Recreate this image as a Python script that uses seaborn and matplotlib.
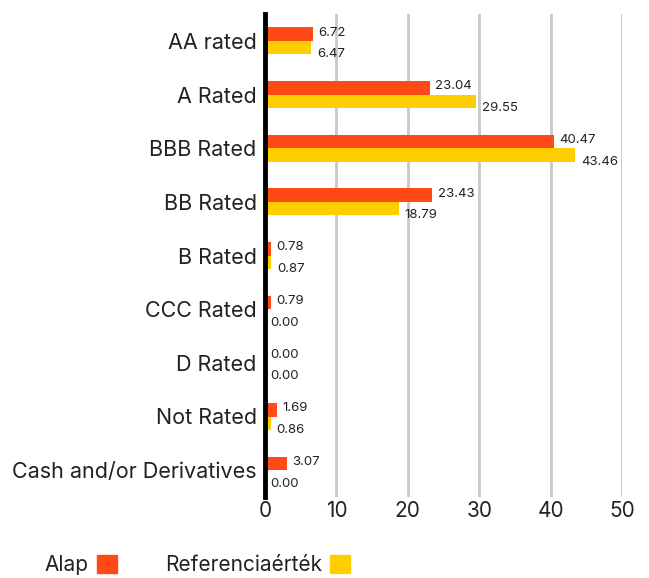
import matplotlib
matplotlib.use("Agg")
import matplotlib.pyplot as plt
import seaborn as sns
import pandas as pd
from matplotlib.patches import Patch

categories = ["AA rated", "A Rated", "BBB Rated", "BB Rated", "B Rated",
              "CCC Rated", "D Rated", "Not Rated", "Cash and/or Derivatives"]
alap = [6.72, 23.04, 40.47, 23.43, 0.78, 0.79, 0.00, 1.69, 3.07]
referencia = [6.47, 29.55, 43.46, 18.79, 0.87, 0.00, 0.00, 0.86, 0.00]
series_names = ["Alap", "Referenciaérték"]
colors = ["#FF4A17", "#FFCE00"]
xticks = [0, 10, 20, 30, 40, 50]

df = pd.DataFrame({
    "cat": categories * 2,
    "val": alap + referencia,
    "series": [series_names[0]] * len(categories) + [series_names[1]] * len(categories),
})

sns.set_style("white")
plt.rcParams["font.family"] = ["Inter", "DejaVu Sans"]

fig = plt.figure(figsize=(6.49, 5.78), dpi=100)
ax = fig.add_axes([265 / 649, 1 - 497 / 578, 357 / 649, 483 / 578])

sns.barplot(data=df, y="cat", x="val", hue="series", orient="h",
            palette=colors, width=0.5, ax=ax, legend=False, saturation=1,
            linewidth=0)

ax.set_xlim(0, 50)
ax.set_xticks(xticks)
ax.set_xlabel("")
ax.set_ylabel("")
ax.grid(axis="x", color="#c8c8c8", linewidth=2)
ax.set_axisbelow(True)
for s in ["top", "right", "bottom"]:
    ax.spines[s].set_visible(False)
ax.spines["left"].set_color("black")
ax.spines["left"].set_linewidth(3.5)
ax.tick_params(axis="y", length=0, labelsize=15.5, pad=6, labelcolor="#222222")
ax.tick_params(axis="x", length=0, labelsize=15, pad=3, labelcolor="#222222")

# value labels next to each bar
for i, cont in enumerate(ax.containers):
    dy = 1 if i == 0 else -5
    for patch, v in zip(cont.patches, [alap, referencia][i]):
        y = patch.get_y() + patch.get_height() / 2
        ax.annotate(f"{v:.2f}", xy=(patch.get_width(), y), xytext=(4, dy),
                    textcoords="offset points", va="center", ha="left",
                    fontsize=9.5, color="#222222")

handles = [Patch(color=c, label=n) for c, n in zip(colors, series_names)]
fig.legend(handles=handles, loc="lower left", bbox_to_anchor=(0.04, -0.028),
           ncol=2, frameon=False, markerfirst=False, fontsize=15,
           handlelength=0.95, handleheight=0.95, columnspacing=2.3, handletextpad=0.4,
           labelcolor="#222222")

fig.savefig("out.png", dpi=100)
